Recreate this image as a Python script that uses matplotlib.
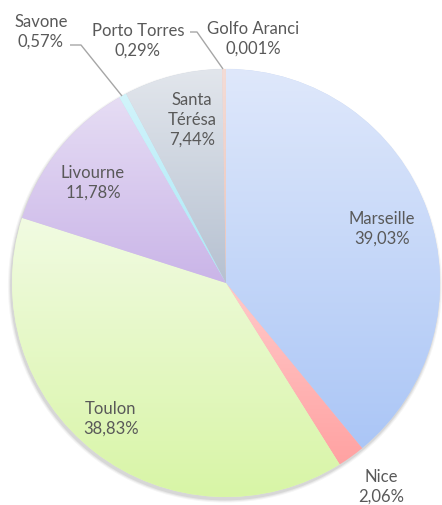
import numpy as np
import matplotlib
matplotlib.use("Agg")
import matplotlib.pyplot as plt
from matplotlib.colors import to_rgba
from matplotlib.patches import Circle

# ---- data ----
ports = ["Marseille", "Nice", "Toulon", "Livourne", "Savone",
         "Santa\nTérésa", "Porto Torres", "Golfo Aranci"]
shares = [39.03, 2.06, 38.83, 11.78, 0.57, 7.44, 0.29, 0.001]
pct_labels = ["39,03%", "2,06%", "38,83%", "11,78%", "0,57%",
              "7,44%", "0,29%", "0,001%"]

# ---- styles ----
grad_top = ["#dfe8fb", "#ffcaca", "#f1fbe2", "#e6ddf4", "#d2f4fb",
            "#e2e6ec", "#f4dcd6", "#fbd5b5"]
grad_bot = ["#abc6f6", "#ffa2a2", "#d8f5a6", "#cab5e8", "#a9e8f7",
            "#b6c1d1", "#ecc4ba", "#f7b98a"]

W, H = 442, 506
CX, CY, R = 226, 284, 214  # pixels


def px(x, y):
    return (x - CX) / R, (CY - y) / R


fig = plt.figure(figsize=(W / 100, H / 100), dpi=100)
ax = fig.add_axes([0, 0, 1, 1])
ax.set_axis_off()

# soft shadow
for a, dr in [(0.04, 0.014), (0.05, 0.009), (0.07, 0.004)]:
    ax.add_patch(Circle((-0.005, -0.012), 1 + dr, color="black",
                        alpha=a, lw=0, zorder=0))

mid = [tuple((np.array(to_rgba(t)) + np.array(to_rgba(b))) / 2)
       for t, b in zip(grad_top, grad_bot)]
wedges, _ = ax.pie(shares, startangle=90, counterclock=False, colors=mid,
                   radius=1, center=(0, 0),
                   wedgeprops=dict(linewidth=0, edgecolor="none"),
                   frame=False)

for w, t, b in zip(wedges, grad_top, grad_bot):
    w.set_zorder(1)
    ext = w.get_path().get_extents()
    n = 256
    tt = np.linspace(0, 1, n)[:, None]
    c0 = np.array(to_rgba(t))
    c1 = np.array(to_rgba(b))
    img = (c0 * (1 - tt) + c1 * tt)[:, None, :]
    im = ax.imshow(img, extent=(ext.x0, ext.x1, ext.y0, ext.y1),
                   origin="upper", aspect="auto", zorder=2,
                   interpolation="bilinear")
    im.set_clip_path(w)

ax.set_xlim(-CX / R, (W - CX) / R)
ax.set_ylim(-(H - CY) / R, CY / R)
ax.set_aspect("auto")

# ---- labels ----
label_pos = [(382, 229), (381, 487), (111, 419), (93, 183), (41, 32),
             (192, 120), (138, 41), (253, 39)]
txt_kw = dict(ha="center", va="center", color="#595959", fontsize=12,
              family=["Lato", "DejaVu Sans"], linespacing=1.3, zorder=5)
for name, pct, (lx, ly) in zip(ports, pct_labels, label_pos):
    ax.text(*px(lx, ly), f"{name}\n{pct}", **txt_kw)

# leader lines
line_kw = dict(color="#a6a6a6", lw=1.0, zorder=4, solid_capstyle="butt")
sx = [px(70, 46), px(81, 46), px(122, 97)]
ax.plot([p[0] for p in sx], [p[1] for p in sx], **line_kw)
pt = [px(190, 33), px(197, 33), px(223, 70)]
ax.plot([p[0] for p in pt], [p[1] for p in pt], **line_kw)

fig.savefig("out.png", dpi=100)
